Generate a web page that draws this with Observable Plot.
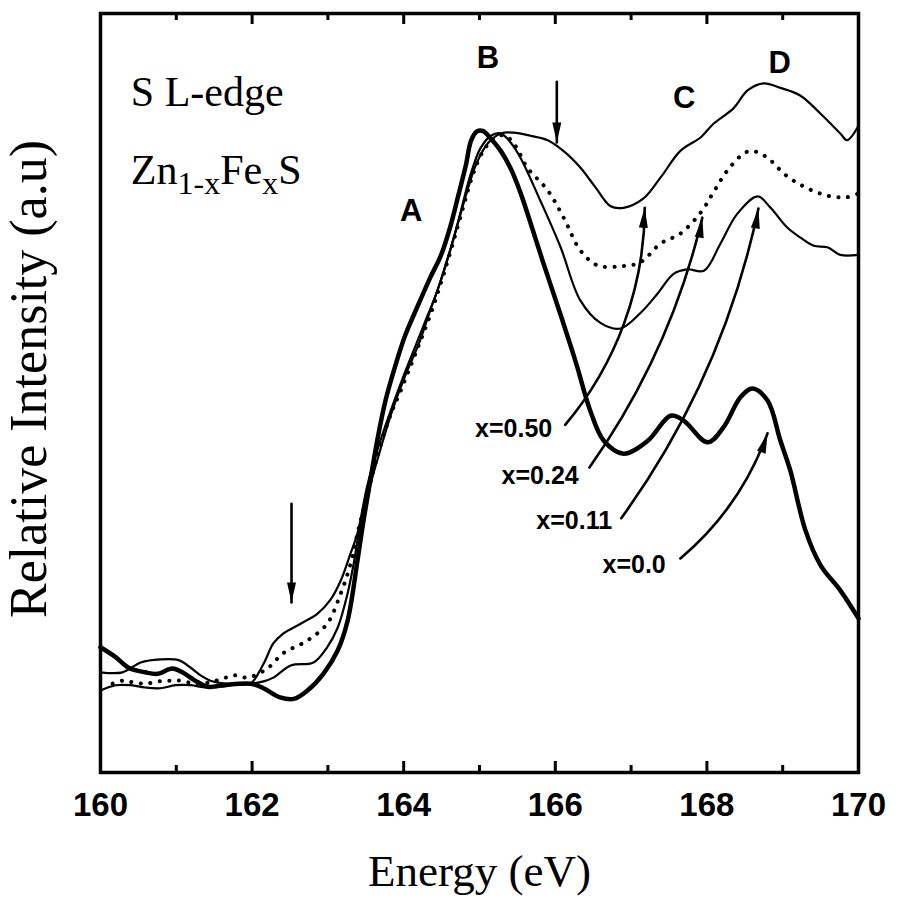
<!DOCTYPE html>
<html><head><meta charset="utf-8">
<script src="https://cdn.jsdelivr.net/npm/d3@7"></script>
<script src="https://cdn.jsdelivr.net/npm/@observablehq/plot@0.6"></script>
<style>body{margin:0;background:#fff}</style>
</head><body><div id="chart"></div>
<script>
// ---- data (energy in eV, intensity in arbitrary units 0..100) ----
const e00 = [160.00,160.20,160.37,160.59,160.75,160.95,161.08,161.25,161.42,161.62,161.98,162.15,162.37,162.55,162.73,162.94,163.13,163.26,163.39,163.47,163.56,163.65,163.76,163.89,164.02,164.20,164.35,164.49,164.62,164.72,164.82,164.89,164.97,165.05,165.15,165.28,165.41,165.54,165.67,165.84,166.03,166.20,166.29,166.46,166.64,166.90,167.22,167.52,167.69,168.01,168.22,168.44,168.60,168.80,168.97,169.10,169.30,169.50,169.76,170.00];
const i00 = [16.5,15.2,13.8,13.2,13.0,13.7,13.2,12.1,11.3,11.5,11.7,11.1,9.9,9.7,10.8,13.0,16.1,20.0,27.9,33.2,38.5,43.7,49.0,53.6,57.6,61.8,65.2,68.1,72.1,76.0,80.0,83.3,84.5,84.5,83.5,81.9,79.6,76.4,72.5,67.2,61.5,56.3,53.4,47.7,43.7,42.0,43.7,47.0,46.4,43.5,45.5,49.4,50.6,49.0,43.7,39.8,31.9,27.3,24.0,20.3];

const e011 = [160.00,160.20,160.40,160.59,160.79,160.99,161.19,161.39,161.58,161.78,161.98,162.15,162.28,162.51,162.81,162.99,163.13,163.26,163.34,163.43,163.54,163.67,163.85,164.02,164.20,164.35,164.49,164.62,164.75,164.88,165.01,165.15,165.28,165.41,165.54,165.80,166.07,166.33,166.60,166.86,167.12,167.35,167.56,167.74,167.96,168.18,168.40,168.67,168.84,169.06,169.23,169.41,169.59,169.76,170.00];
const i011 = [10.8,11.5,11.5,11.2,11.1,11.5,11.5,11.2,11.3,11.6,11.7,12.0,12.5,14.1,14.5,16.5,19.1,23.6,27.5,32.8,37.2,41.8,47.7,52.3,56.5,60.9,64.8,69.0,73.8,78.7,82.2,83.9,84.2,83.0,81.0,75.4,69.2,62.2,59.2,58.5,60.5,63.1,65.7,66.3,66.1,69.7,73.6,75.9,74.4,71.8,70.5,69.4,69.2,68.2,68.2];

const e024 = [160.16,160.29,160.42,160.59,160.77,160.92,161.06,161.25,161.45,161.65,161.78,161.94,162.20,162.41,162.73,162.99,163.17,163.30,163.39,163.50,163.63,163.80,163.96,164.12,164.25,164.38,164.51,164.64,164.78,164.91,165.05,165.21,165.34,165.47,165.63,165.90,166.11,166.33,166.56,166.86,167.12,167.39,167.65,167.92,168.09,168.27,168.51,168.64,168.80,169.04,169.30,169.59,169.85,170.00];
const i024 = [11.7,12.1,11.9,11.7,12.0,12.1,12.1,11.7,11.9,12.5,12.8,12.5,13.7,15.7,17.4,19.6,23.6,27.5,31.5,35.8,40.8,46.4,50.3,54.3,57.6,61.1,65.1,69.4,74.3,78.7,81.9,83.7,83.9,82.6,79.7,76.7,73.1,68.8,66.8,66.7,67.2,69.7,71.0,73.8,76.5,79.3,81.7,81.8,81.0,78.7,77.1,76.0,75.8,76.3];

const e050 = [160.00,160.29,160.53,160.79,161.03,161.19,161.32,161.45,161.65,161.85,161.98,162.15,162.28,162.41,162.64,162.86,163.03,163.17,163.30,163.39,163.52,163.65,163.83,164.00,164.16,164.29,164.42,164.55,164.68,164.82,164.95,165.11,165.28,165.45,165.67,165.90,166.13,166.33,166.53,166.73,166.90,167.16,167.39,167.65,167.92,168.09,168.35,168.54,168.75,168.97,169.23,169.50,169.76,169.85,170.00];
const i050 = [13.2,13.2,14.5,14.9,14.8,13.8,12.8,12.1,11.7,11.6,11.7,14.3,17.0,18.3,19.6,20.9,22.7,25.3,28.9,31.5,37.8,42.4,47.7,52.3,56.3,59.6,62.8,66.8,71.1,76.0,80.0,82.9,84.2,84.3,83.9,83.3,81.7,79.7,77.1,74.6,74.4,75.6,78.4,81.9,83.7,85.5,87.5,89.9,90.8,90.2,89.2,86.8,84.2,83.3,85.2];

const majorTicks = [160, 162, 164, 166, 168, 170];
const minorTicks = [161, 163, 165, 167, 169];

const peakLabels = ["A", "B", "C", "D"];
const peakE = [164.10, 165.11, 167.70, 168.96];
const peakI = [74.0, 94.1, 88.8, 93.5];

const seriesLabels = ["x=0.50", "x=0.24", "x=0.11", "x=0.0"];
const seriesLabelE = [165.45, 165.80, 166.25, 167.04];
const seriesLabelI = [45.2, 39.0, 33.1, 27.3];
const arrowStartE = [166.13, 166.45, 166.87, 167.65];
const arrowStartI = [45.8, 40.2, 33.5, 28.2];
const arrowTipE = [167.18, 167.94, 168.68, 168.80];
const arrowTipI = [74.4, 73.1, 74.3, 44.7];
const arrowBend = [-20, -11, -12, -15];
const arrowTipAngle = [4, 9, 9, 18];

const markerE = [162.52, 166.02];
const markerTopI = [35.4, 91.0];
const markerTipI = [22.4, 83.0];

// ---- build ----
const pts = (E, I) => E.map((e, k) => ({E: e, I: I[k]}));
const serif = "Liberation Serif, Times New Roman, serif";
const sans = "Liberation Sans, Arial, sans-serif";
const headUp = {draw(ctx) { ctx.moveTo(0, 0); ctx.lineTo(4.5, 20); ctx.lineTo(-4.5, 20); ctx.closePath(); }};
const FH = 898 - 13 - 126;

const marks = [
  Plot.tickX(majorTicks, {x: d => d, insetTop: FH - 11, strokeWidth: 3}),
  Plot.tickX(majorTicks, {x: d => d, insetBottom: FH - 11, strokeWidth: 3}),
  Plot.tickX(minorTicks, {x: d => d, insetTop: FH - 7, strokeWidth: 3}),
  Plot.tickX(minorTicks, {x: d => d, insetBottom: FH - 7, strokeWidth: 3}),
  Plot.text(majorTicks, {x: d => d, text: d => String(d), frameAnchor: "bottom", lineAnchor: "middle", dy: 33, fontSize: 33, fontWeight: "bold", fontFamily: sans}),
  Plot.text(["Energy (eV)"], {frameAnchor: "bottom", lineAnchor: "middle", textAnchor: "middle", dy: 99, fontSize: 45, fontFamily: serif}),
  Plot.text(["Relative Intensity (a.u)"], {frameAnchor: "left", textAnchor: "middle", lineAnchor: "middle", rotate: -90, dx: -71, dy: -14, fontSize: 52, fontFamily: serif}),

  Plot.line(pts(e050, i050), {x: "E", y: "I", stroke: "black", strokeWidth: 2.2, curve: "catmull-rom"}),
  Plot.line(pts(e024, i024), {x: "E", y: "I", stroke: "black", strokeWidth: 4, strokeDasharray: "0.1 9.5", strokeLinecap: "round", curve: "catmull-rom"}),
  Plot.line(pts(e011, i011), {x: "E", y: "I", stroke: "black", strokeWidth: 2.2, curve: "catmull-rom"}),
  Plot.line(pts(e00, i00), {x: "E", y: "I", stroke: "black", strokeWidth: 4.5, curve: "catmull-rom"}),

  Plot.frame({stroke: "black", strokeWidth: 3.5}),

  Plot.text(peakLabels, {x: (d, k) => peakE[k], y: (d, k) => peakI[k], text: d => d, fontSize: 31, fontWeight: "bold", fontFamily: sans}),
  Plot.text(seriesLabels, {x: (d, k) => seriesLabelE[k], y: (d, k) => seriesLabelI[k], text: d => d, fontSize: 25, fontWeight: "bold", fontFamily: sans}),
  Plot.text(["S L-edge"], {x: [160.40], y: [89.6], text: d => d, textAnchor: "start", fontSize: 42, fontFamily: serif}),
  Plot.text(["Zn1-xFexS"], {x: [160.40], y: [79.3], text: d => d, textAnchor: "start", fontSize: 42, fontFamily: serif}),

  Plot.arrow(markerE, {x1: d => d, x2: d => d, y1: (d, k) => markerTopI[k], y2: (d, k) => markerTipI[k], headLength: 0, strokeWidth: 2.6}),
  Plot.dot(markerE, {x: d => d, y: (d, k) => markerTipI[k], symbol: headUp, rotate: 180, fill: "black", stroke: "none"}),
  ...seriesLabels.map((s, k) => Plot.arrow([k], {x1: () => arrowStartE[k], y1: () => arrowStartI[k], x2: () => arrowTipE[k], y2: () => arrowTipI[k], bend: arrowBend[k], headLength: 0, strokeWidth: 2.6})),
  Plot.dot(seriesLabels, {x: (d, k) => arrowTipE[k], y: (d, k) => arrowTipI[k], symbol: headUp, rotate: (d, k) => arrowTipAngle[k], fill: "black", stroke: "none"})
];

const chart = Plot.plot({
  width: 898, height: 898,
  marginLeft: 100, marginRight: 40, marginTop: 13, marginBottom: 126,
  x: {domain: [160, 170], axis: null},
  y: {domain: [0, 100], axis: null},
  style: {background: "white", overflow: "visible", color: "black"},
  marks
});

// subscripts in Zn(1-x)Fe(x)S
d3.select(chart).selectAll("text").filter(function() { return this.textContent === "Zn1-xFexS"; })
  .each(function() {
    const t = d3.select(this);
    t.text(null);
    t.append("tspan").text("Zn");
    t.append("tspan").attr("dy", 10).attr("font-size", 32).text("1-x");
    t.append("tspan").attr("dy", -10).text("Fe");
    t.append("tspan").attr("dy", 10).attr("font-size", 32).text("x");
    t.append("tspan").attr("dy", -10).text("S");
  });

document.getElementById("chart").appendChild(chart);
</script>
</body></html>
